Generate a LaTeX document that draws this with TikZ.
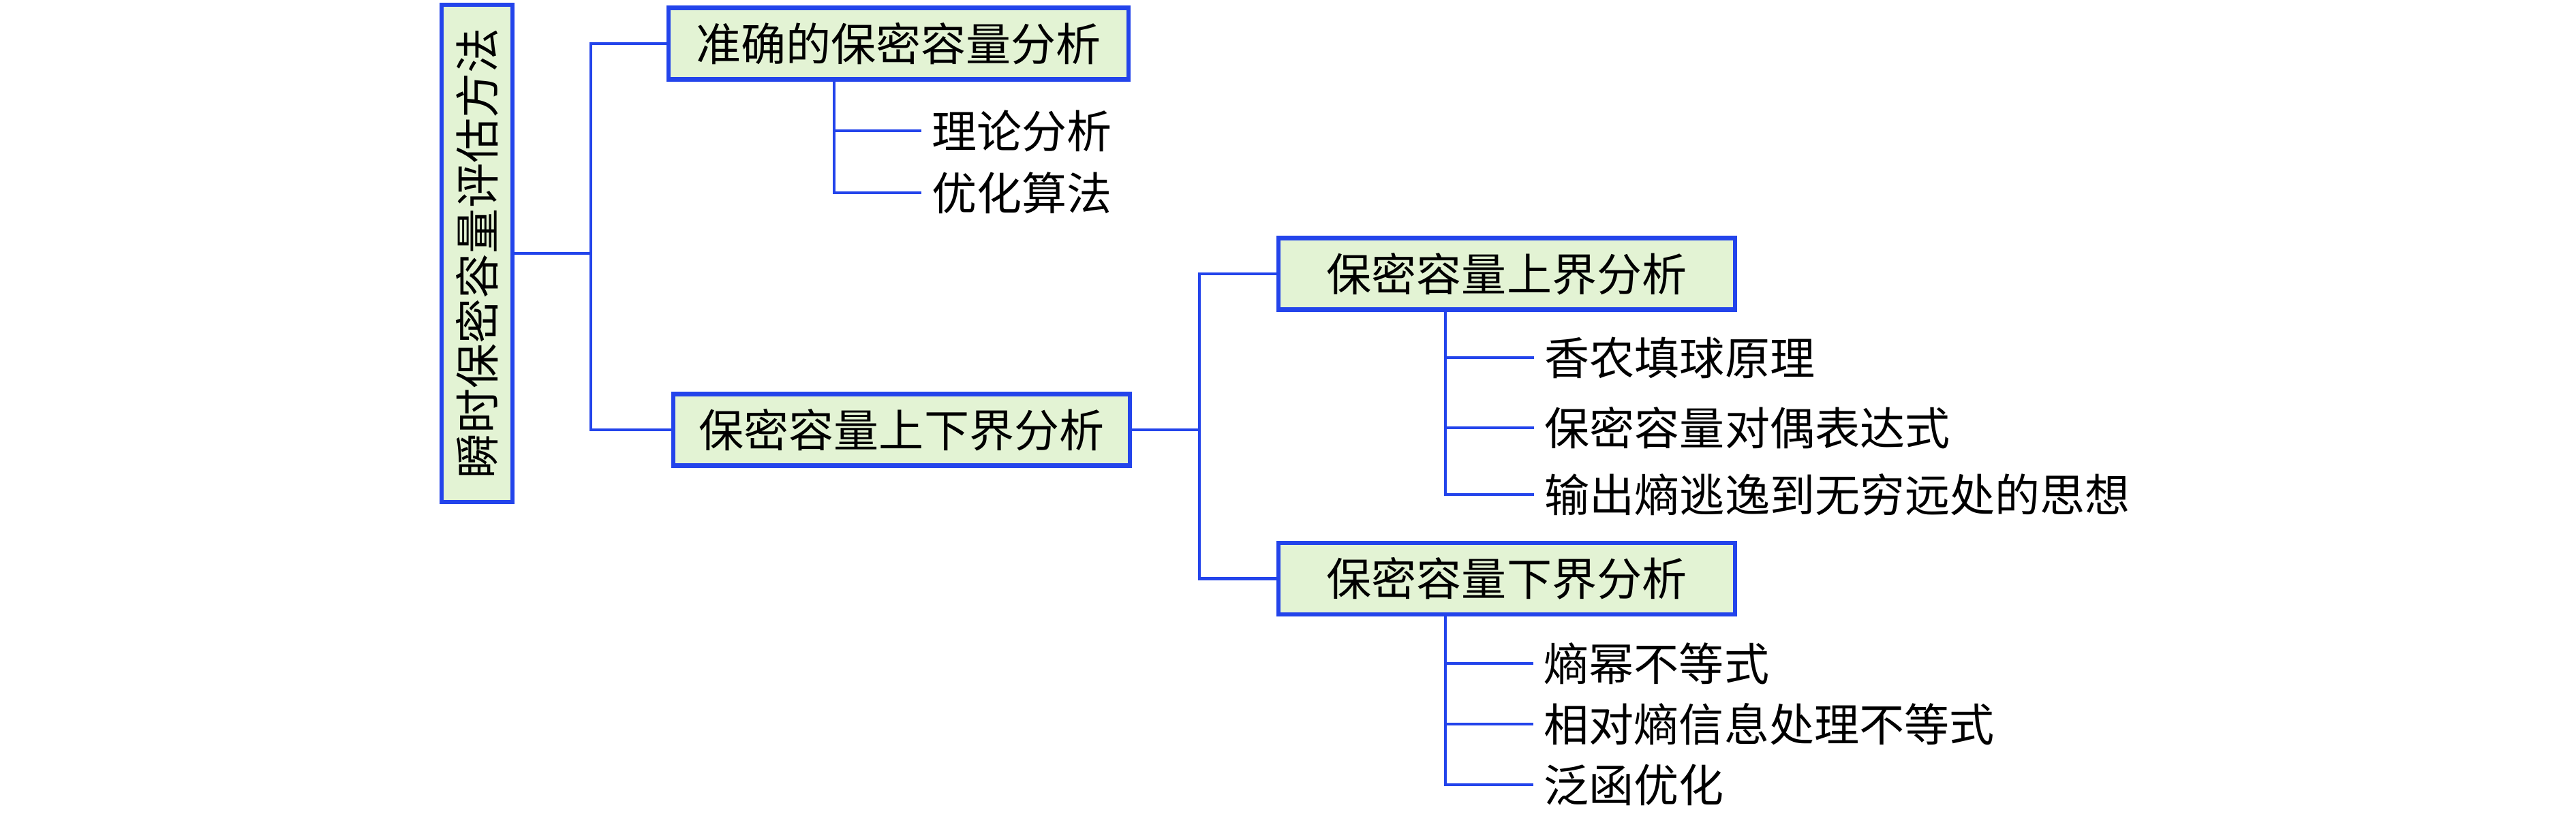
\documentclass[tikz,border=0pt]{standalone}
\usepackage{fontspec}
\newfontfamily\cjk{Noto Sans CJK SC}
\usetikzlibrary{positioning}
\definecolor{linkblue}{RGB}{35,68,235}
\definecolor{boxgreen}{RGB}{227,243,212}

\begin{document}
\begin{tikzpicture}[
		every node/.style={font=\cjk\fontsize{18.8}{22}\selectfont},
		topbox/.style={draw=linkblue,line width=1.8pt,fill=boxgreen,minimum height=1.05cm,minimum width=6.7cm,inner sep=0pt},
		leaf/.style={anchor=west,inner xsep=0.15cm,inner ysep=0pt},
		link/.style={draw=linkblue,line width=1.3pt}]
		\useasboundingbox (0,0) rectangle (37.8,-11.95);

		\node[topbox,rotate=90,minimum width=7.3cm,minimum height=1.04cm] (root) at (7.0,-3.72) {瞬时保密容量评估方法};
		\node[topbox,minimum width=6.75cm] (exact) at (13.185,-0.64) {准确的保密容量分析};
		\node[topbox] (bounds) at (13.23,-6.31) {保密容量上下界分析};
		\node[topbox] (upper) at (22.11,-4.02) {保密容量上界分析};
		\node[topbox] (lower) at (22.11,-8.495) {保密容量下界分析};

		\node[leaf] (theory) at (13.52,-1.92) {理论分析};
		\node[leaf] (optim) at (13.52,-2.83) {优化算法};
		\node[leaf] (sphere) at (22.51,-5.25) {香农填球原理};
		\node[leaf] (dual) at (22.51,-6.28) {保密容量对偶表达式};
		\node[leaf] (escape) at (22.51,-7.26) {输出熵逃逸到无穷远处的思想};
		\node[leaf] (epi) at (22.50,-9.74) {熵幂不等式};
		\node[leaf] (relent) at (22.50,-10.63) {相对熵信息处理不等式};
		\node[leaf] (func) at (22.50,-11.52) {泛函优化};

		\coordinate (j1) at (8.67,-3.72);
		\coordinate (j2) at (17.60,-6.31);
		\coordinate (s1) at ([xshift=2.46cm]exact.south west);
		\coordinate (s3) at ([xshift=2.48cm]upper.south west);
		\coordinate (s4) at ([xshift=2.48cm]lower.south west);

		\draw[link] (root.south) -- (j1);
		\draw[link] (exact.west) -| (j1) |- (bounds.west);
		\draw[link] (bounds.east) -- (j2);
		\draw[link] (upper.west) -| (j2) |- (lower.west);

		\draw[link] (s1) |- (theory.west);
		\draw[link] (s1) |- (optim.west);
		\draw[link] (s3) |- (sphere.west);
		\draw[link] (s3) |- (dual.west);
		\draw[link] (s3) |- (escape.west);
		\draw[link] (s4) |- (epi.west);
		\draw[link] (s4) |- (relent.west);
		\draw[link] (s4) |- (func.west);
	\end{tikzpicture}
\end{document}
